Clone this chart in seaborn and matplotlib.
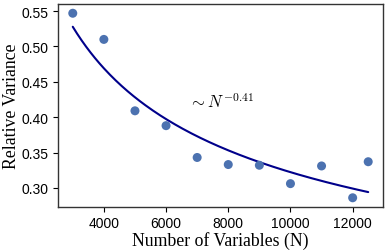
import numpy as np
import pandas as pd
import matplotlib
matplotlib.use("Agg")
import matplotlib.pyplot as plt
import seaborn as sns

# Data
num_vars = [3000, 4000, 5000, 6000, 7000, 8000, 9000, 10000, 11000, 12000, 12500]
rel_var = [0.547, 0.510, 0.409, 0.388, 0.343, 0.333, 0.332, 0.306, 0.331, 0.286, 0.337]
exponent = -0.41
x_ticks = [4000, 6000, 8000, 10000, 12000]
y_ticks = [0.30, 0.35, 0.40, 0.45, 0.50, 0.55]

sns.set_theme(style="ticks")
plt.rcParams['font.family'] = ['Liberation Sans', 'DejaVu Sans']
plt.rcParams['mathtext.fontset'] = 'cm'
plt.rcParams['text.color'] = 'black'
plt.rcParams['axes.labelcolor'] = 'black'

df = pd.DataFrame({"N": num_vars, "var": rel_var})

# power-law fit with the stated exponent (amplitude by least squares in log space)
N = np.array(num_vars, dtype=float)
y = np.array(rel_var)
logC = np.mean(np.log(y) - exponent * np.log(N))
amp = np.exp(logC)
fit_x = np.linspace(N.min(), N.max(), 200)
fit_df = pd.DataFrame({"N": fit_x, "fit": amp * fit_x ** exponent})

fig = plt.figure(figsize=(3.9, 2.51), dpi=100)
ax = fig.add_axes([0.1487, 0.1713, 0.8333, 0.8087])

sns.scatterplot(data=df, x="N", y="var", ax=ax, s=42, color="#4C72B0",
                edgecolor="none", zorder=3)
sns.lineplot(data=fit_df, x="N", y="fit", ax=ax, color="#00008B", linewidth=1.5)

ax.set_xticks(x_ticks)
ax.set_yticks(y_ticks)
ax.set_xticklabels([str(t) for t in x_ticks])
ax.set_yticklabels([f"{t:.2f}" for t in y_ticks])
ax.tick_params(labelsize=10, length=3.5, width=0.8, pad=3, colors="black")
for lab in ax.get_xticklabels() + ax.get_yticklabels():
    lab.set_family(['Liberation Sans'])
for sp in ax.spines.values():
    sp.set_color("#333333")
    sp.set_linewidth(1.0)
    sp.set_visible(True)

ax.set_xlabel("Number of Variables (N)", fontsize=12.8, color="black",
              family=['Liberation Serif'], labelpad=1)
ax.set_ylabel("Relative Variance", fontsize=12.8, color="black",
              family=['Liberation Serif'], labelpad=1.5)

ax.text(6750, 0.415, r"$\sim N^{-0.41}$", fontsize=12, color="black",
        ha="left", va="baseline")

fig.savefig("out.png", dpi=100)
